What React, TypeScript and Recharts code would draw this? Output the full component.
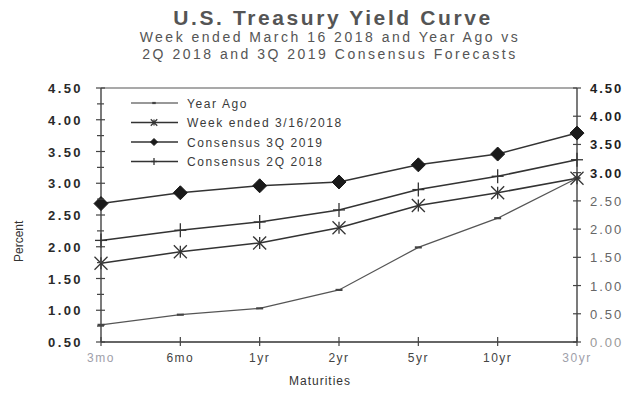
import React from "react";
import { LineChart, Line, XAxis, YAxis, ReferenceLine } from "recharts";

const maturities = ["3mo", "6mo", "1yr", "2yr", "5yr", "10yr", "30yr"];
const yearAgo = [0.77, 0.93, 1.03, 1.32, 1.99, 2.45, 3.08];
const weekEnded = [1.74, 1.92, 2.06, 2.3, 2.65, 2.85, 3.08];
const consensus3Q2019 = [2.68, 2.85, 2.96, 3.02, 3.29, 3.46, 3.79];
const consensus2Q2018 = [2.1, 2.26, 2.39, 2.58, 2.9, 3.11, 3.37];
const leftTicks = [0.5, 0.75, 1, 1.25, 1.5, 1.75, 2, 2.25, 2.5, 2.75, 3, 3.25, 3.5, 3.75, 4, 4.25, 4.5];
const rightTicks = [0, 0.5, 1, 1.5, 2, 2.5, 3, 3.5, 4, 4.5];

const seriesNames = ["Year Ago", "Week ended 3/16/2018", "Consensus 3Q 2019", "Consensus 2Q 2018"];

const data = maturities.map((m, i) => ({
  m,
  a: yearAgo[i],
  w: weekEnded[i],
  c3: consensus3Q2019[i],
  c2: consensus2Q2018[i],
}));

const FONT = "'Liberation Sans', Arial, sans-serif";

const Marker = ({ kind, x, y, s = 1 }: { kind: string; x: number; y: number; s?: number }) => {
  if (kind === "dash")
    return <line x1={x - 3.5 * s} x2={x + 3.5 * s} y1={y} y2={y} stroke="#444" strokeWidth={2.2} />;
  if (kind === "star")
    return (
      <g stroke="#333" strokeWidth={1.3}>
        <line x1={x - 6.5 * s} y1={y - 6.5 * s} x2={x + 6.5 * s} y2={y + 6.5 * s} />
        <line x1={x - 6.5 * s} y1={y + 6.5 * s} x2={x + 6.5 * s} y2={y - 6.5 * s} />
        <line x1={x} y1={y - 6 * s} x2={x} y2={y + 6 * s} />
      </g>
    );
  if (kind === "diamond")
    return (
      <path
        d={`M${x},${y - 7 * s}L${x + 7 * s},${y}L${x},${y + 7 * s}L${x - 7 * s},${y}Z`}
        fill="#1a1a1a"
        stroke="#1a1a1a"
      />
    );
  return (
    <g stroke="#333" strokeWidth={1.3}>
      <line x1={x - 6 * s} x2={x + 6 * s} y1={y} y2={y} />
      <line x1={x} x2={x} y1={y - 7 * s} y2={y + 7 * s} />
    </g>
  );
};

const makeDot = (kind: string) => (props: any) => {
  const { cx, cy, index } = props;
  if (cx == null || cy == null) return <g key={index} />;
  return <Marker key={index} kind={kind} x={cx} y={cy} />;
};

const LeftTick = (props: any) => {
  const { x, y, payload } = props;
  const v = payload.value as number;
  const major = Math.abs(v * 2 - Math.round(v * 2)) < 1e-6;
  return (
    <g>
      <line x1={x - (major ? 5 : 4)} x2={x + (major ? 4 : 3)} y1={y} y2={y} stroke="#444" strokeWidth={1.2} />
      {major && (
        <text
          x={x - 18}
          y={y}
          dy={5}
          textAnchor="end"
          fontFamily={FONT}
          fontSize={13}
          fontWeight="bold"
          letterSpacing={2.4}
          fill="#2a2a2a"
        >
          {v.toFixed(2)}
        </text>
      )}
    </g>
  );
};

const RightTick = (props: any) => {
  const { x, y, payload } = props;
  const v = payload.value as number;
  const dark = v >= 3;
  return (
    <g>
      <line x1={x - 4} x2={x + 4} y1={y} y2={y} stroke="#444" strokeWidth={1.2} />
      <text
        x={x + 13}
        y={y}
        dy={5}
        textAnchor="start"
        fontFamily={FONT}
        fontSize={13}
        fontWeight={dark ? "bold" : "normal"}
        letterSpacing={2}
        fill={dark ? "#1e1e1e" : v === 0 ? "#999" : "#666"}
      >
        {v.toFixed(2)}
      </text>
    </g>
  );
};

const XTick = (props: any) => {
  const { x, y, payload, index } = props;
  const light = index === 0 || index === maturities.length - 1;
  return (
    <g>
      <line x1={x} x2={x} y1={y - 5} y2={y + 4} stroke="#444" strokeWidth={1.2} />
      <text
        x={x}
        y={y + 20}
        textAnchor="middle"
        fontFamily={FONT}
        fontSize={12}
        letterSpacing={1.5}
        fill={light ? "#a0a0aa" : "#444"}
      >
        {payload.value}
      </text>
    </g>
  );
};

const legendKinds = ["dash", "star", "diamond", "plus"];

const LegendBox = () => (
  <svg width={240} height={80} style={{ display: "block" }}>
    {seriesNames.map((name, i) => {
      const y = 9 + i * 19.5;
      return (
        <g key={name}>
          <line x1={3} x2={50} y1={y} y2={y} stroke="#333" strokeWidth={i === 0 ? 1.2 : 1.5} />
          <Marker kind={legendKinds[i]} x={26} y={y} s={0.5} />
          <text x={59} y={y + 4.5} fontFamily={FONT} fontSize={12} letterSpacing={1.6} fill="#3a3a3a">
            {name}
          </text>
        </g>
      );
    })}
  </svg>
);

export default function App() {
  return (
    <div style={{ position: "absolute", left: 0, top: 0, width: 631, height: 396, background: "#fff", fontFamily: FONT }}>
      <div
        style={{
          position: "absolute",
          left: 0,
          top: 6,
          width: 666,
          textAlign: "center",
          fontSize: 21,
          fontWeight: "bold",
          letterSpacing: 2.6,
          color: "#555",
          lineHeight: "24px",
        }}
      >
        U.S. Treasury Yield Curve
      </div>
      <div
        style={{
          position: "absolute",
          left: 0,
          top: 29,
          width: 660,
          textAlign: "center",
          fontSize: 14,
          letterSpacing: 2.5,
          color: "#555",
          lineHeight: "17px",
        }}
      >
        Week ended March 16 2018 and Year Ago vs
        <br />
        2Q 2018 and 3Q 2019 Consensus Forecasts
      </div>
      <LineChart width={631} height={396} data={data} margin={{ top: 88, right: 0, bottom: 0, left: 0 }}>
        <XAxis
          dataKey="m"
          height={54}
          tickSize={0}
          tickMargin={0}
          tick={<XTick />}
          interval={0}
          axisLine={{ stroke: "#333", strokeWidth: 1.3 }}
          tickLine={false}
          padding={{ left: 0, right: 0 }}
        />
        <YAxis
          yAxisId="left"
          width={101}
          domain={[0.5, 4.5]}
          ticks={leftTicks}
          interval={0}
          tickSize={0}
          tickMargin={0}
          tick={<LeftTick />}
          tickLine={false}
          axisLine={{ stroke: "#333", strokeWidth: 1.3 }}
          allowDataOverflow
        />
        <YAxis
          yAxisId="right"
          orientation="right"
          width={54}
          domain={[0, 4.5]}
          ticks={rightTicks}
          interval={0}
          tickSize={0}
          tickMargin={0}
          tick={<RightTick />}
          tickLine={false}
          axisLine={{ stroke: "#333", strokeWidth: 1.3 }}
          allowDataOverflow
        />
        <ReferenceLine yAxisId="left" y={4.5} stroke="#555" strokeWidth={1.2} />
        <Line
          yAxisId="left"
          dataKey="a"
          name={seriesNames[0]}
          stroke="#555"
          strokeWidth={1.2}
          dot={makeDot("dash")}
          activeDot={false}
          isAnimationActive={false}
        />
        <Line
          yAxisId="left"
          dataKey="w"
          name={seriesNames[1]}
          stroke="#333"
          strokeWidth={1.5}
          dot={makeDot("star")}
          activeDot={false}
          isAnimationActive={false}
        />
        <Line
          yAxisId="left"
          dataKey="c3"
          name={seriesNames[2]}
          stroke="#333"
          strokeWidth={1.5}
          dot={makeDot("diamond")}
          activeDot={false}
          isAnimationActive={false}
        />
        <Line
          yAxisId="left"
          dataKey="c2"
          name={seriesNames[3]}
          stroke="#333"
          strokeWidth={1.5}
          dot={makeDot("plus")}
          activeDot={false}
          isAnimationActive={false}
        />
      </LineChart>
      <div style={{ position: "absolute", left: 128, top: 94 }}>
        <LegendBox />
      </div>
      <div
        style={{
          position: "absolute",
          left: 2,
          top: 237,
          width: 34,
          textAlign: "center",
          transform: "rotate(-90deg)",
          fontSize: 12,
          color: "#333",
          lineHeight: "16px",
        }}
      >
        Percent
      </div>
      <div
        style={{
          position: "absolute",
          left: 270,
          top: 374,
          width: 100,
          textAlign: "center",
          fontSize: 12,
          letterSpacing: 1,
          color: "#333",
        }}
      >
        Maturities
      </div>
    </div>
  );
}
